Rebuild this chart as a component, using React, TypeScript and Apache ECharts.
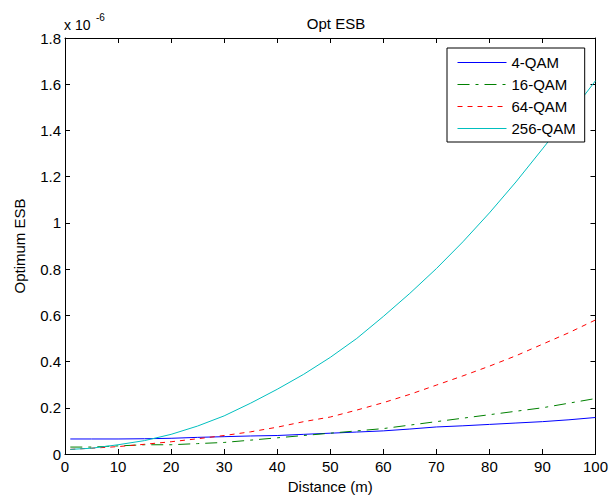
import React, { useEffect, useRef } from "react";
import * as echarts from "echarts";

const distance = [1, 5, 10, 15, 20, 25, 30, 35, 40, 45, 50, 55, 60, 65, 70, 75, 80, 85, 90, 95, 100];
const qam4 = [0.065, 0.065, 0.065, 0.066, 0.068, 0.072, 0.075, 0.078, 0.08, 0.085, 0.09, 0.095, 0.1, 0.108, 0.117, 0.122, 0.128, 0.134, 0.14, 0.148, 0.158];
const qam16 = [0.03, 0.03, 0.035, 0.04, 0.04, 0.045, 0.05, 0.06, 0.07, 0.08, 0.09, 0.1, 0.11, 0.125, 0.14, 0.155, 0.17, 0.185, 0.2, 0.22, 0.24];
const qam64 = [0.02, 0.025, 0.032, 0.042, 0.053, 0.066, 0.08, 0.096, 0.116, 0.14, 0.16, 0.19, 0.222, 0.258, 0.298, 0.338, 0.38, 0.425, 0.475, 0.525, 0.58];
const qam256 = [0.02, 0.025, 0.04, 0.058, 0.085, 0.121, 0.165, 0.22, 0.28, 0.345, 0.418, 0.5, 0.595, 0.695, 0.802, 0.918, 1.043, 1.177, 1.32, 1.465, 1.615];

const seriesNames = ["4-QAM", "16-QAM", "64-QAM", "256-QAM"];
const seriesData = [qam4, qam16, qam64, qam256];
const seriesColors = ["#0000ff", "#008000", "#ff0000", "#00bfbf"];
const seriesDash: any[] = ["solid", [12, 6, 3, 6], [5, 5], "solid"];

const FONT = "'Liberation Sans', Arial, sans-serif";

export default function App() {
  const ref = useRef<HTMLDivElement>(null);
  useEffect(() => {
    if (!ref.current) return;
    const chart = echarts.init(ref.current, undefined, { renderer: "svg" });
    const axisCommon = {
      type: "value" as const,
      axisLine: { show: true, onZero: false, lineStyle: { color: "#000", width: 1 } },
      axisTick: { show: true, inside: true, length: 5, lineStyle: { color: "#000" } },
      splitLine: { show: false },
    };
    chart.setOption({
      animation: false,
      backgroundColor: "#fff",
      textStyle: { fontFamily: FONT },
      title: {
        text: "Opt ESB",
        left: 331,
        textAlign: "center",
        top: 11,
        textStyle: { fontFamily: FONT, fontSize: 15, fontWeight: "normal", color: "#000" },
      },
      grid: { left: 65, right: 13, top: 38, bottom: 40, containLabel: false },
      legend: {
        orient: "vertical",
        left: 447,
        top: 48,
        padding: [7, 9, 6, 10],
        itemWidth: 49,
        itemHeight: 14,
        itemGap: 7,
        borderColor: "#000",
        borderWidth: 1,
        backgroundColor: "#fff",
        itemStyle: { color: "transparent", borderWidth: 0, opacity: 0 },
        lineStyle: { width: 1 },
        textStyle: { fontFamily: FONT, fontSize: 15, color: "#000", lineHeight: 14 },
        data: seriesNames,
      },
      xAxis: [
        {
          ...axisCommon,
          position: "bottom",
          min: 0,
          max: 100,
          interval: 10,
          name: "Distance (m)",
          nameLocation: "middle",
          nameGap: 25,
          nameTextStyle: { fontFamily: FONT, fontSize: 15, color: "#000" },
          axisLabel: { fontFamily: FONT, fontSize: 15, color: "#000", margin: 5 },
        },
        {
          ...axisCommon,
          position: "top",
          min: 0,
          max: 100,
          interval: 10,
          axisLabel: { show: false },
        },
      ],
      yAxis: [
        {
          ...axisCommon,
          position: "left",
          min: 0,
          max: 1.8,
          interval: 0.2,
          name: "Optimum ESB",
          nameLocation: "middle",
          nameGap: 38,
          nameTextStyle: { fontFamily: FONT, fontSize: 15, color: "#000" },
          axisLabel: { fontFamily: FONT, fontSize: 15, color: "#000", margin: 4 },
        },
        {
          ...axisCommon,
          position: "right",
          min: 0,
          max: 1.8,
          interval: 0.2,
          axisLabel: { show: false },
        },
      ],
      series: seriesNames.map((name, i) => ({
        name,
        type: "line",
        xAxisIndex: 0,
        yAxisIndex: 0,
        symbol: "none",
        showSymbol: false,
        lineStyle: { color: seriesColors[i], width: 1, type: seriesDash[i] },
        itemStyle: { color: seriesColors[i] },
        data: distance.map((d, j) => [d, seriesData[i][j]]),
      })),
      graphic: [
        {
          type: "text",
          left: 64,
          top: 18,
          style: { text: "x 10", fontFamily: FONT, fontSize: 14, fill: "#000" },
        },
        {
          type: "text",
          left: 96,
          top: 12,
          style: { text: "-6", fontFamily: FONT, fontSize: 10, fill: "#000" },
        },
      ],
    });
    return () => chart.dispose();
  }, []);
  return (
    <div
      ref={ref}
      style={{ position: "absolute", left: 0, top: 0, width: 611, height: 499 }}
    />
  );
}
